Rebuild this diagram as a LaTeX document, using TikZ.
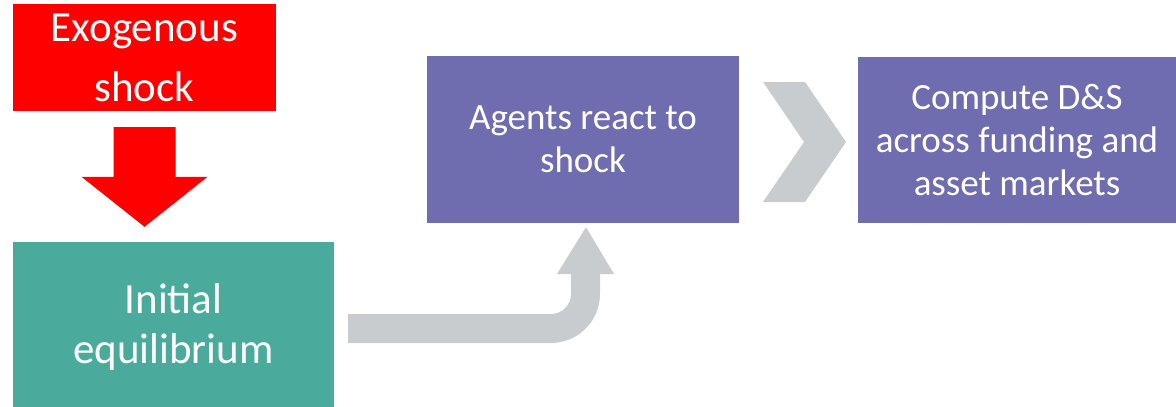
\documentclass[tikz,border=0pt]{standalone}
\usepackage{fontspec}
\setmainfont{Carlito}
\usetikzlibrary{calc}
\definecolor{shockred}{HTML}{FF0000}
\definecolor{eqteal}{HTML}{4AAA9B}
\definecolor{stepviolet}{HTML}{6F6CAF}
\definecolor{flowgray}{HTML}{C9CCCF}
\tikzset{
  blockbox/.style={rectangle, inner sep=0pt, text=white, align=center},
  bigtext/.style={font=\fontsize{43}{60}\selectfont},
  midtext/.style={font=\fontsize{43}{50}\selectfont},
  smalltext/.style={font=\fontsize{37}{43}\selectfont},
}
\begin{document}
\begin{tikzpicture}[x=1pt, y=-1pt]
  \useasboundingbox (0,0) rectangle (1176,407);

  % boxes
  \node[blockbox, bigtext, fill=shockred, minimum width=263, minimum height=107]
    (shock) at (144.5,57.5) {Exogenous\\shock};
  \node[blockbox, midtext, fill=eqteal, minimum width=321, minimum height=165]
    (init) at (173.5,324.5) {};
  \node[text=white, align=center, midtext, inner sep=0pt] (initlabel)
    at ($(init.center)+(0,3)$) {Initial\\equilibrium};
  \node[blockbox, smalltext, fill=stepviolet, minimum width=312, minimum height=167]
    (react) at (583,139.5) {Agents react to\\shock};
  \node[blockbox, smalltext, fill=stepviolet, minimum width=318, minimum height=166]
    (compute) at (1017,140) {Compute D\&S\\across funding and\\asset markets};

  % block arrow from the shock down to the initial equilibrium
  \coordinate (sa) at ($(shock.south)+(0,16)$);
  \coordinate (sb) at ($(sa |- init.north)+(0,-15)$);
  \fill[shockred] ($(sa)+(-31,0)$) -- ($(sa)+(31,0)$) -- ($(sb)+(31,-50)$)
    -- ($(sb)+(63,-50)$) -- (sb) -- ($(sb)+(-63,-50)$) -- ($(sb)+(-31,-50)$) -- cycle;

  % bent arrow from the equilibrium up to the agents' reaction
  \coordinate (ba) at ($(init.east |- 0,314)+(14,0)$);
  \coordinate (bb) at ($(react.south)+(3,4)$);
  \fill[flowgray] (ba) -- (551,314) .. controls (562,314) and (571,305) .. (571,294)
    -- (571,274) -- (557,274) -- (bb) -- (614,274) -- (600,274) -- (600,294)
    .. controls (600,321) and (578,343) .. (551,343) -- (ba |- 0,343) -- cycle;

  % chevron between the two steps
  \fill[flowgray] (763,82) -- (805,82) -- (846,142) -- (805,202) -- (763,202)
    -- (804,142) -- cycle;
\end{tikzpicture}
\end{document}
